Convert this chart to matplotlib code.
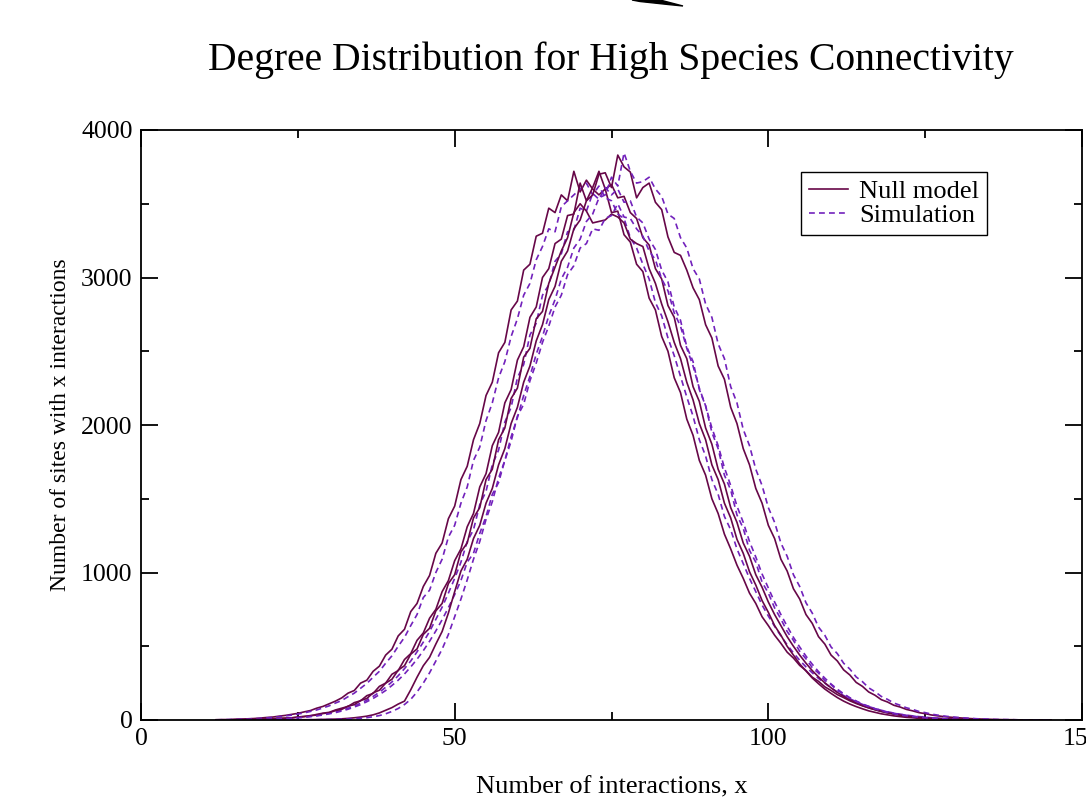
import numpy as np
import matplotlib
matplotlib.use("Agg")
import matplotlib.pyplot as plt
from matplotlib.patches import Polygon
from matplotlib.ticker import MultipleLocator

plt.rcParams['font.family'] = ['Liberation Serif', 'DejaVu Serif']

# number of interactions (x) and site counts for each run
interactions = np.arange(12, 146)

null_1 = [2, 3, 3, 5, 6, 8, 10, 13, 17, 20,
          26, 31, 38, 45, 55, 64, 80, 92, 110, 128,
          150, 182, 200, 250, 270, 330, 365, 440, 480, 570,
          615, 735, 790, 905, 980, 1130, 1200, 1365, 1450, 1630,
          1720, 1900, 2010, 2200, 2290, 2490, 2560, 2780, 2840, 3050,
          3090, 3280, 3300, 3470, 3440, 3560, 3520, 3720, 3580, 3660,
          3600, 3560, 3600, 3440, 3450, 3290, 3240, 3090, 3040, 2860,
          2780, 2600, 2500, 2320, 2220, 2040, 1930, 1760, 1660, 1500,
          1400, 1260, 1160, 1050, 960, 860, 790, 700, 640, 575,
          520, 460, 420, 370, 335, 290, 262, 225, 200, 172,
          152, 130, 112, 96, 82, 70, 59, 50, 42, 35,
          29, 24, 20, 16, 13, 10, 8, 6, 5, 4,
          3, 2, 2, 1, 1, 1, 0, 0, 0, 0, 0, 0, 0, 0]
sim_1 = [1, 2, 3, 4, 5, 7, 9, 11, 14, 18,
         22, 27, 33, 40, 48, 58, 68, 82, 96, 115,
         132, 158, 182, 215, 248, 290, 330, 385, 435, 500,
         560, 640, 715, 830, 880, 1000, 1090, 1240, 1320, 1470,
         1580, 1760, 1850, 2030, 2150, 2320, 2430, 2600, 2720, 2880,
         2960, 3120, 3210, 3330, 3310, 3480, 3520, 3560, 3600, 3640,
         3560, 3620, 3540, 3520, 3430, 3400, 3270, 3200, 3090, 2990,
         2830, 2740, 2590, 2470, 2330, 2190, 2060, 1900, 1790, 1630,
         1530, 1380, 1290, 1160, 1060, 960, 870, 780, 705, 635,
         570, 510, 455, 405, 360, 320, 282, 250, 218, 190,
         166, 144, 124, 106, 91, 78, 66, 56, 47, 40,
         33, 28, 23, 19, 15, 12, 10, 8, 6, 5,
         4, 3, 2, 2, 1, 1, 1, 0, 0, 0, 0, 0, 0, 0]
null_2 = [1, 1, 1, 2, 3, 3, 4, 5, 7, 8,
          11, 13, 15, 20, 25, 28, 38, 46, 52, 68,
          80, 92, 118, 130, 165, 180, 228, 250, 310, 335,
          410, 450, 540, 590, 690, 750, 870, 945, 1080, 1160,
          1310, 1400, 1580, 1670, 1860, 1950, 2150, 2240, 2440, 2530,
          2730, 2800, 3000, 3060, 3230, 3260, 3420, 3430, 3640, 3520,
          3610, 3720, 3600, 3630, 3540, 3550, 3440, 3400, 3270, 3220,
          3060, 2990, 2810, 2730, 2540, 2450, 2260, 2160, 1980, 1870,
          1700, 1600, 1440, 1340, 1200, 1110, 985, 900, 800, 715,
          640, 565, 500, 440, 385, 335, 292, 252, 218, 187,
          160, 137, 116, 98, 83, 70, 58, 48, 40, 33,
          27, 22, 18, 14, 11, 9, 7, 5, 4, 3,
          3, 2, 1, 1, 1, 0, 0, 0, 0, 0, 0, 0, 0, 0]
sim_2 = [0, 1, 1, 1, 2, 3, 3, 4, 5, 7,
         8, 10, 13, 16, 20, 25, 30, 37, 45, 55,
         66, 80, 95, 114, 135, 160, 188, 222, 258, 300,
         348, 400, 462, 528, 600, 682, 765, 860, 960, 1070,
         1210, 1290, 1460, 1550, 1730, 1830, 2020, 2120, 2320, 2410,
         2610, 2690, 2880, 2950, 3110, 3160, 3310, 3320, 3470, 3450,
         3570, 3530, 3610, 3560, 3600, 3510, 3520, 3410, 3370, 3260,
         3190, 3050, 2970, 2800, 2710, 2530, 2430, 2240, 2130, 1950,
         1840, 1660, 1560, 1390, 1300, 1150, 1070, 935, 860, 760,
         685, 600, 540, 465, 415, 355, 318, 268, 240, 200,
         176, 147, 128, 107, 93, 77, 66, 54, 46, 38,
         31, 26, 21, 17, 14, 11, 9, 7, 5, 4,
         3, 2, 2, 1, 1, 1, 0, 0, 0, 0, 0, 0, 0, 0]
null_3 = [1, 1, 1, 2, 2, 3, 4, 5, 6, 8,
          10, 11, 14, 19, 22, 30, 33, 44, 49, 64,
          72, 94, 104, 132, 146, 184, 202, 250, 276, 338,
          368, 446, 482, 580, 622, 740, 790, 925, 985, 1140,
          1200, 1370, 1440, 1630, 1700, 1900, 1980, 2180, 2250, 2460,
          2520, 2720, 2770, 2960, 3070, 3180, 3270, 3440, 3500, 3450,
          3370, 3380, 3390, 3430, 3410, 3370, 3260, 3230, 3210, 3060,
          2960, 2820, 2700, 2560, 2450, 2290, 2170, 2010, 1900, 1730,
          1630, 1470, 1370, 1225, 1130, 1005, 915, 810, 730, 640,
          575, 500, 440, 380, 332, 285, 246, 210, 180, 152,
          128, 108, 91, 76, 62, 52, 42, 35, 28, 23,
          18, 15, 11, 9, 8, 6, 5, 4, 3, 3,
          2, 1, 1, 1, 0, 0, 0, 0, 0, 0, 0, 0, 0, 0]
sim_3 = [0, 1, 1, 1, 2, 2, 3, 4, 5, 6,
         8, 9, 12, 15, 18, 23, 28, 34, 42, 50,
         61, 73, 88, 104, 124, 146, 172, 200, 234, 270,
         312, 360, 412, 470, 534, 604, 680, 762, 850, 946,
         1070, 1130, 1265, 1380, 1530, 1610, 1760, 1890, 2060, 2140,
         2300, 2420, 2560, 2670, 2800, 2880, 3020, 3080, 3200, 3230,
         3330, 3320, 3400, 3420, 3500, 3410, 3400, 3330, 3280, 3180,
         3120, 2990, 2910, 2760, 2670, 2520, 2400, 2250, 2130, 1980,
         1860, 1710, 1590, 1450, 1340, 1210, 1105, 990, 895, 800,
         715, 635, 560, 495, 433, 378, 328, 284, 244, 209,
         178, 151, 128, 108, 91, 76, 63, 52, 43, 35,
         29, 23, 19, 15, 12, 10, 8, 6, 5, 4,
         3, 2, 2, 1, 1, 1, 0, 0, 0, 0, 0, 0, 0, 0]
null_4 = [0, 0, 0, 0, 0, 0, 0, 0, 0, 1,
          1, 1, 1, 1, 2, 2, 3, 4, 5, 6,
          8, 11, 15, 20, 26, 35, 48, 66, 84, 108,
          128, 205, 290, 368, 425, 515, 600, 725, 870, 1010,
          1090, 1230, 1320, 1470, 1570, 1730, 1840, 2010, 2120, 2290,
          2400, 2570, 2680, 2850, 2940, 3110, 3180, 3330, 3390, 3520,
          3560, 3700, 3710, 3610, 3830, 3750, 3715, 3540, 3610, 3640,
          3510, 3460, 3275, 3170, 3150, 3050, 2930, 2850, 2680, 2590,
          2400, 2310, 2120, 2010, 1840, 1730, 1570, 1470, 1320, 1230,
          1090, 1010, 890, 820, 715, 655, 565, 515, 440, 400,
          340, 305, 255, 228, 190, 168, 138, 122, 100, 88,
          72, 62, 50, 43, 34, 28, 23, 19, 16, 13,
          10, 8, 6, 5, 4, 3, 2, 2, 1, 1, 1, 0, 0, 0]
sim_4 = [0, 0, 0, 0, 0, 0, 0, 0, 0, 0,
         0, 1, 1, 1, 1, 2, 2, 3, 3, 4,
         5, 7, 9, 12, 16, 22, 30, 42, 58, 78,
         105, 140, 190, 250, 320, 400, 480, 580, 700, 820,
         950, 1090, 1210, 1360, 1480, 1640, 1760, 1920, 2050, 2200,
         2330, 2480, 2600, 2740, 2850, 2990, 3070, 3200, 3260, 3380,
         3430, 3540, 3560, 3680, 3620, 3845, 3720, 3640, 3650, 3680,
         3600, 3550, 3430, 3400, 3270, 3200, 3060, 2990, 2820, 2730,
         2550, 2450, 2260, 2150, 1970, 1860, 1700, 1590, 1440, 1340,
         1200, 1110, 985, 905, 795, 725, 630, 575, 495, 450,
         385, 345, 292, 260, 218, 192, 160, 140, 115, 100,
         83, 72, 58, 50, 40, 33, 27, 22, 18, 15,
         12, 9, 7, 6, 4, 3, 3, 2, 1, 1, 1, 1, 0, 0]

null_runs = [null_1, null_2, null_3, null_4]
sim_runs = [sim_1, sim_2, sim_3, sim_4]

null_color = '#670748'   # grace "maroon"
sim_color = '#7221bc'    # grace "indigo"

W, H = 1086, 800
fig = plt.figure(figsize=(W / 100, H / 100), dpi=100)
ax = fig.add_axes([141 / W, 80 / H, 941 / W, 590 / H])

for i in range(len(null_runs)):
    ax.plot(interactions, null_runs[i], color=null_color, lw=1.2,
            label='Null model' if i == 0 else None)
    ax.plot(interactions, sim_runs[i], color=sim_color, lw=1.2,
            ls=(0, (3.5, 2.5)), label='Simulation' if i == 0 else None)

ax.set_xlim(0, 150)
ax.set_ylim(0, 4000)
ax.xaxis.set_major_locator(MultipleLocator(50))
ax.xaxis.set_minor_locator(MultipleLocator(25))
ax.yaxis.set_major_locator(MultipleLocator(1000))
ax.yaxis.set_minor_locator(MultipleLocator(500))
ax.tick_params(which='both', direction='in', top=True, right=True,
               width=1.3, labelsize=18.5)
ax.tick_params(which='major', length=12)
ax.tick_params(which='minor', length=6)
ax.tick_params(axis='x', pad=6)
ax.tick_params(axis='y', pad=6)
for sp in ax.spines.values():
    sp.set_linewidth(1.3)

ax.set_xlabel('Number of interactions, x', fontsize=19, va='center')
ax.xaxis.set_label_coords(0.5, -0.115)
ax.set_ylabel('Number of sites with x interactions', fontsize=17, va='center')
ax.yaxis.set_label_coords(-0.086, 0.5)

fig.text(611 / W, 1 - 60 / H, 'Degree Distribution for High Species Connectivity',
         fontsize=28.5, ha='center', va='center')

leg = ax.legend(loc='upper right', bbox_to_anchor=(0.899, 0.929), borderaxespad=0,
                fontsize=19, handlelength=1.5, handletextpad=0.4,
                labelspacing=0.0, borderpad=0.3, fancybox=False, framealpha=1)
leg.get_frame().set_edgecolor('black')
leg.get_frame().set_linewidth(1.0)

# stray black wedge at the very top of the original image
wedge = [(632, 0), (660, 0), (683, 6), (668, 4.5), (640, 1.5)]
fig.patches.append(Polygon([(x / W, 1 - y / H) for x, y in wedge], closed=True,
                           transform=fig.transFigure, color='black'))

fig.savefig('out.png', dpi=100)
